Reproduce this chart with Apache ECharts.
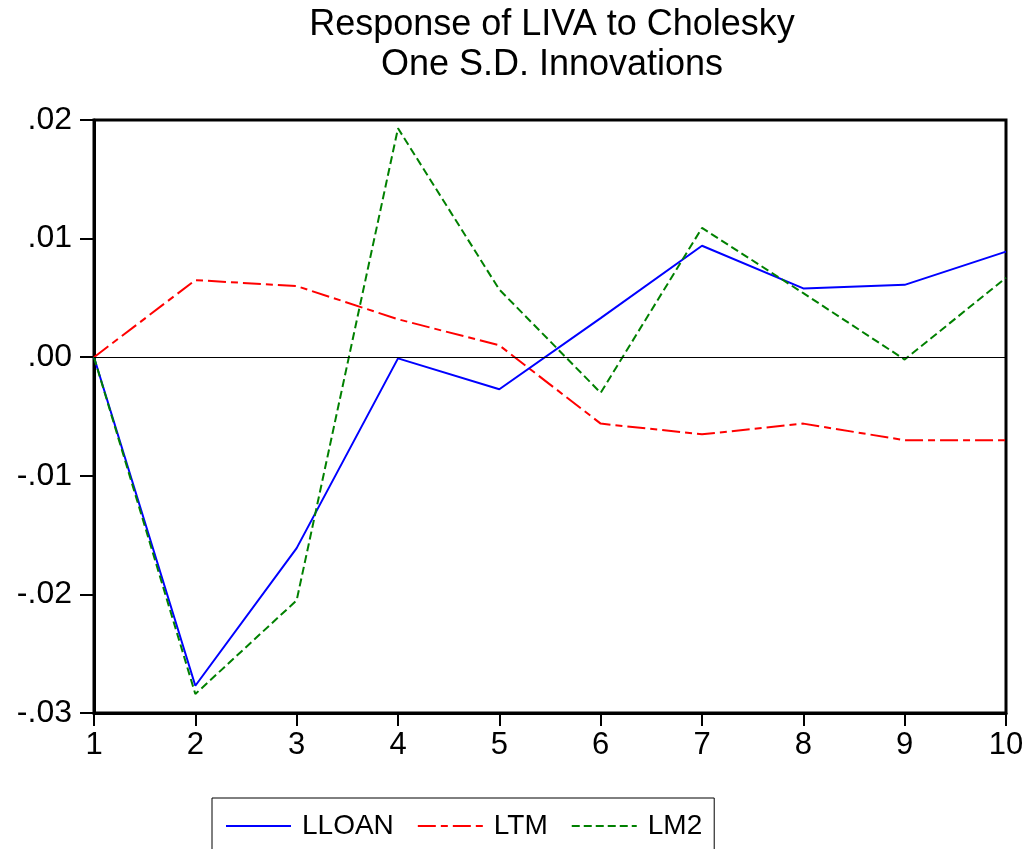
<!DOCTYPE html>
<html>
<head>
<meta charset="utf-8">
<script src="https://cdn.jsdelivr.net/npm/echarts@6/dist/echarts.min.js"></script>
<style>
  html, body { margin: 0; padding: 0; background: #fff; }
  #chart { width: 1030px; height: 849px; }
</style>
</head>
<body>
<div id="chart"></div>
<script>
const periods = ['1', '2', '3', '4', '5', '6', '7', '8', '9', '10']
const lloan = [0, -0.0277, -0.0161, -0.0001, -0.0027, 0.0033, 0.0094, 0.0058, 0.0061, 0.0089]
const ltm = [0, 0.0065, 0.0060, 0.0032, 0.0010, -0.0056, -0.0065, -0.0056, -0.0070, -0.0070]
const lm2 = [0, -0.0284, -0.0205, 0.0193, 0.0057, -0.0030, 0.0109, 0.0054, -0.0002, 0.0067]

const font = 'Liberation Sans, Arial, sans-serif'

function tickFormatter(v) {
  return v.toFixed(2).replace('0.', '.')
}

const chart = echarts.init(document.getElementById('chart'))
const option = {
  animation: false,
  backgroundColor: '#fff',
  title: {
    text: 'Response of LIVA to Cholesky\nOne S.D. Innovations',
    left: 547,
    top: 0,
    textAlign: 'center',
    textStyle: {
      fontFamily: font,
      fontSize: 36,
      fontWeight: 'normal',
      color: '#000',
      lineHeight: 40
    }
  },
  legend: {
    left: 212,
    top: 798,
    padding: [14, 12, 14, 13],
    itemWidth: 65,
    itemHeight: 14,
    itemGap: 23,
    borderColor: '#000',
    borderWidth: 1,
    itemStyle: { opacity: 0 },
    textStyle: {
      fontFamily: font,
      fontSize: 28,
      color: '#000',
      padding: [0, 0, 0, 6]
    },
    data: ['LLOAN', 'LTM', 'LM2']
  },
  grid: {
    left: 94,
    right: 24,
    top: 120,
    bottom: 136,
    show: true,
    borderColor: '#000',
    borderWidth: 3
  },
  xAxis: {
    type: 'category',
    data: periods,
    boundaryGap: false,
    axisLine: { onZero: false, lineStyle: { color: '#000', width: 3 } },
    axisTick: { length: 13, lineStyle: { color: '#000', width: 2 } },
    axisLabel: { fontFamily: font, fontSize: 31, color: '#000', margin: 17 },
    splitLine: { show: false }
  },
  yAxis: {
    type: 'value',
    min: -0.03,
    max: 0.02,
    interval: 0.01,
    axisLine: { show: true, lineStyle: { color: '#000', width: 3 } },
    axisTick: { show: true, length: 14, lineStyle: { color: '#000', width: 2 } },
    axisLabel: { fontFamily: font, fontSize: 32, color: '#000', margin: 22, formatter: tickFormatter },
    splitLine: { show: false }
  },
  series: [
    {
      name: 'LLOAN',
      type: 'line',
      data: lloan,
      symbol: 'none',
      lineStyle: { color: '#0000ff', width: 2 },
      itemStyle: { color: '#0000ff' },
      markLine: {
        silent: true,
        symbol: 'none',
        label: { show: false },
        lineStyle: { color: '#000', width: 1, type: 'solid' },
        data: [{ yAxis: 0 }]
      },
      z: 3
    },
    {
      name: 'LTM',
      type: 'line',
      data: ltm,
      symbol: 'none',
      lineStyle: { color: '#ff0000', width: 2, type: [18, 5, 7, 5] },
      itemStyle: { color: '#ff0000' },
      z: 2
    },
    {
      name: 'LM2',
      type: 'line',
      data: lm2,
      symbol: 'none',
      lineStyle: { color: '#008000', width: 2, type: [8, 4] },
      itemStyle: { color: '#008000' },
      z: 4
    }
  ]
}
chart.setOption(option)
</script>
</body>
</html>
